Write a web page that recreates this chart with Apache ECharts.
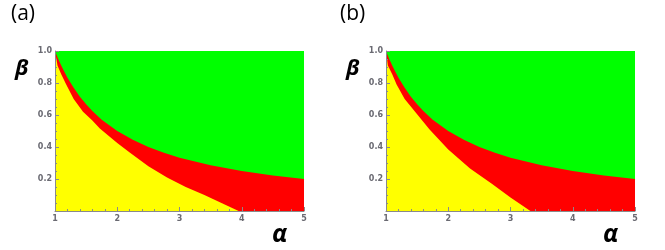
<!DOCTYPE html>
<html>
<head>
<meta charset="utf-8">
<script src="https://cdn.jsdelivr.net/npm/echarts@6/dist/echarts.min.js"></script>
<style>html,body{margin:0;padding:0;background:#fff}#c{width:665px;height:250px}</style>
</head>
<body>
<div id="c"></div>
<script>
// ---- data ----
const xTicks = [1, 2, 3, 4, 5];
const yTicks = [0.2, 0.4, 0.6, 0.8, 1.0];
const topAlpha = [1, 5];
const topBeta = [1, 1];

// upper (green/red) boundary, same in both panels
const upperAlpha = [1, 1.05, 1.1, 1.15, 1.2, 1.3, 1.4, 1.5, 1.6, 1.75, 2, 2.25, 2.5, 2.75, 3, 3.5, 4, 4.5, 5];
const upperBeta  = [1, 0.952, 0.91, 0.87, 0.833, 0.77, 0.714, 0.667, 0.625, 0.571, 0.5, 0.445, 0.4, 0.364, 0.333, 0.286, 0.25, 0.222, 0.2];

// lower (red/yellow) boundary, panel (a)
const lowerAlphaA = [1, 1.04, 1.1, 1.18, 1.3, 1.45, 1.6, 1.72, 2.0, 2.2, 2.5, 2.8, 3.1, 3.4, 3.7, 3.95];
const lowerBetaA  = [1, 0.91, 0.855, 0.79, 0.70, 0.62, 0.565, 0.515, 0.425, 0.365, 0.28, 0.21, 0.15, 0.10, 0.045, 0];

// lower (red/yellow) boundary, panel (b)
const lowerAlphaB = [1, 1.03, 1.1, 1.17, 1.3, 1.49, 1.7, 2.0, 2.35, 2.7, 3.0, 3.32];
const lowerBetaB  = [1, 0.91, 0.855, 0.79, 0.70, 0.61, 0.51, 0.385, 0.265, 0.17, 0.085, 0];

const panelLabels = ['(a)', '(b)'];

// ---- build chart ----
const zip = (xs, ys) => xs.map((x, i) => [x, ys[i]]);
const GREEN = '#00ff00', RED = '#ff0000', YELLOW = '#ffff00';
const axisGray = '#8a8a8a';
const labelStyle = { fontSize: 8, fontWeight: 'bold', color: '#6a6a72', fontFamily: 'DejaVu Sans' };

function xAxis(gi) {
  return {
    type: 'value', gridIndex: gi, min: 1, max: 5, interval: 1, z: 10,
    axisLine: { show: true, onZero: false, lineStyle: { color: axisGray, width: 1 } },
    axisTick: { show: true, inside: true, length: 4, lineStyle: { color: axisGray } },
    minorTick: { show: true, splitNumber: 5, length: 2, lineStyle: { color: axisGray } },
    splitLine: { show: false },
    axisLabel: Object.assign({ margin: 4, formatter: v => xTicks.includes(v) ? String(v) : '' }, labelStyle)
  };
}
function yAxis(gi) {
  return {
    type: 'value', gridIndex: gi, min: 0, max: 1, interval: 0.2, z: 10,
    axisLine: { show: true, onZero: false, lineStyle: { color: axisGray, width: 1 } },
    axisTick: { show: true, inside: true, length: 4, lineStyle: { color: axisGray } },
    minorTick: { show: true, splitNumber: 4, length: 2, lineStyle: { color: axisGray } },
    splitLine: { show: false },
    axisLabel: Object.assign({ margin: 3, formatter: v => {
      const t = yTicks.find(y => Math.abs(y - v) < 1e-9);
      return t === undefined ? '' : t.toFixed(1);
    } }, labelStyle)
  };
}
function area(gi, data, color, z) {
  return {
    type: 'line', xAxisIndex: gi, yAxisIndex: gi, data: data, z: z,
    showSymbol: false, symbol: 'none', smooth: false,
    lineStyle: { width: 0, color: color }, areaStyle: { color: color, opacity: 1, origin: 'start' },
    silent: true, animation: false
  };
}

const chart = echarts.init(document.getElementById('c'), null, { renderer: 'canvas' });
const lowers = [zip(lowerAlphaA, lowerBetaA), zip(lowerAlphaB, lowerBetaB)];
const series = [];
[0, 1].forEach(gi => {
  series.push(area(gi, zip(topAlpha, topBeta), GREEN, 1));
  series.push(area(gi, zip(upperAlpha, upperBeta), RED, 2));
  series.push(area(gi, lowers[gi], YELLOW, 3));
});

const txt = (left, top, text, size, style, weight) => ({
  type: 'text', left: left, top: top, z: 20,
  style: { text: text, fontSize: size, fontStyle: style || 'normal', fontWeight: weight || 'normal',
           fill: '#000', fontFamily: 'Open Sans' }
});

chart.setOption({
  animation: false,
  grid: [
    { left: 55, top: 51, width: 249, height: 160 },
    { left: 386, top: 51, width: 249, height: 160 }
  ],
  xAxis: [xAxis(0), xAxis(1)],
  yAxis: [yAxis(0), yAxis(1)],
  series: series,
  graphic: [
    txt(11, 4, panelLabels[0], 21),
    txt(340, 4, panelLabels[1], 21),
    txt(15, 58, 'β', 22, 'italic', 'bold'),
    txt(346, 58, 'β', 22, 'italic', 'bold'),
    txt(272, 222, 'α', 25, 'italic', 'bold'),
    txt(603, 222, 'α', 25, 'italic', 'bold')
  ]
});
</script>
</body>
</html>
